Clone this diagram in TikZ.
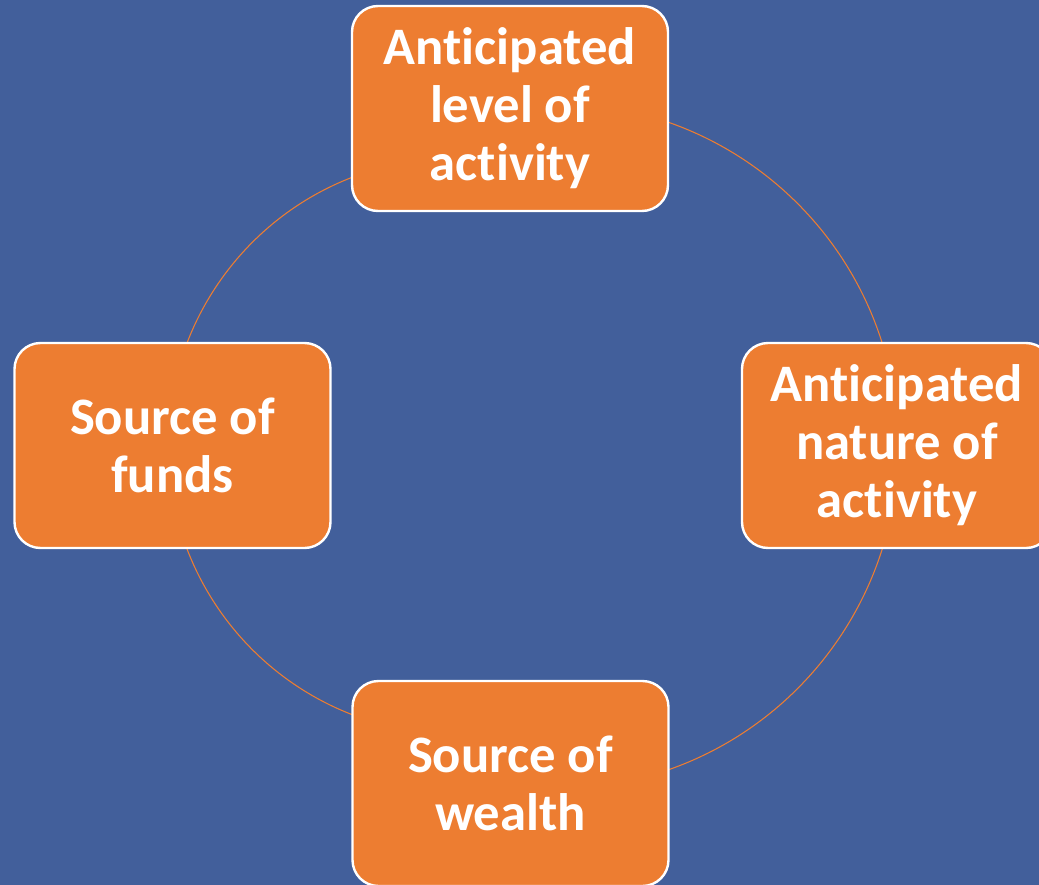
\documentclass[tikz,border=0pt]{standalone}
\usepackage{fontspec}
\setmainfont{Carlito}[Ligatures={NoCommon,NoRequired,NoContextual}]
\definecolor{bgblue}{HTML}{425F9B}
\definecolor{boxorange}{HTML}{ED7D31}
\begin{document}
\begin{tikzpicture}[x=0.75pt,y=-0.75pt,
  stepbox/.style={draw=white, line width=1.8pt, fill=boxorange, rounded corners=19.5pt,
    minimum width=237pt, minimum height=153.75pt, inner sep=0pt, align=center,
    text=white, font=\fontsize{39.5}{43.5}\selectfont\bfseries},
  ring/.style={draw=boxorange, line width=0.8pt}]
\fill[bgblue] (0,0) rectangle (1039,885);
\useasboundingbox (0,0) rectangle (1039,885);
\coordinate (cl) at (456,446);
\coordinate (cr) at (555,446);
\draw[ring] (cl) ++(100:216pt) arc[start angle=100, end angle=260, radius=216pt];
\draw[ring] (cr) ++(-80:257.25pt) arc[start angle=-80, end angle=80, radius=257.25pt];
\node[stepbox] (top) at (510,108.5) {Anticipated\\level of\\activity};
\node[stepbox] (left) at (172.5,445.5) {Source of\\funds};
\node[stepbox, minimum width=232.5pt] (right) at (897,445.5) {Anticipated\\nature of\\activity};
\node[stepbox] (bottom) at (510.5,783.5) {Source of\\wealth};
\end{tikzpicture}
\end{document}
